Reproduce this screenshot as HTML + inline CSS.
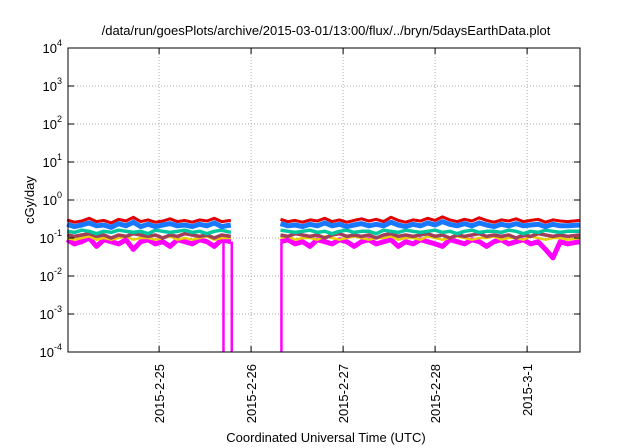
<!DOCTYPE html>
<html><head><meta charset="utf-8"><style>
html,body{margin:0;padding:0;background:#fff;}
svg{display:block;font-family:"Liberation Sans",sans-serif;}
</style></head><body>
<svg id="chart" width="640" height="448" viewBox="0 0 640 448" xmlns="http://www.w3.org/2000/svg">
<text x="326" y="35" font-size="13" text-anchor="middle">/data/run/goesPlots/archive/2015-03-01/13:00/flux/../bryn/5daysEarthData.plot</text>
<g id="grid"></g>
<g id="series"></g>
<rect x="68" y="48" width="512" height="304" fill="none" stroke="#000" stroke-width="1"/>
<g id="axes"></g>
<text transform="translate(34,200) rotate(-90)" font-size="13" text-anchor="middle">cGy/day</text>
<text x="326" y="442" font-size="13" text-anchor="middle">Coordinated Universal Time (UTC)</text>
</svg>
<script>
const xTickDays = [25, 26, 27, 28, 29];
const xTickLabels = ["2015-2-25", "2015-2-26", "2015-2-27", "2015-2-28", "2015-3-1"];
const yTickExps = [-4, -3, -2, -1, 0, 1, 2, 3, 4];
const times1 = [24.00,24.08,24.16,24.24,24.32,24.40,24.48,24.56,24.64,24.72,24.80,24.88,24.96,25.04,25.12,25.20,25.28,25.36,25.44,25.52,25.60,25.68,25.78];
const times2 = [26.32,26.40,26.48,26.56,26.64,26.72,26.80,26.88,26.96,27.04,27.12,27.20,27.28,27.36,27.44,27.52,27.60,27.68,27.76,27.84,27.92,28.00,28.08,28.16,28.24,28.32,28.40,28.48,28.56,28.64,28.72,28.80,28.88,28.96,29.04,29.12,29.20,29.28,29.36,29.44,29.57];
const red1 = [.30,.26,.28,.33,.27,.29,.25,.31,.28,.35,.27,.30,.26,.28,.32,.27,.29,.26,.30,.28,.33,.27,.29];
const red2 = [.31,.27,.29,.26,.30,.28,.33,.27,.30,.26,.29,.32,.28,.31,.27,.35,.29,.26,.30,.28,.33,.29,.36,.30,.27,.31,.28,.34,.29,.26,.30,.28,.32,.27,.29,.31,.26,.30,.28,.27,.29];
const blue1 = [.23,.20,.22,.25,.21,.22,.19,.24,.21,.26,.20,.23,.20,.22,.24,.21,.22,.20,.23,.21,.25,.20,.22];
const blue2 = [.24,.21,.22,.20,.23,.21,.25,.21,.23,.20,.22,.24,.21,.23,.21,.26,.22,.20,.23,.21,.25,.22,.27,.23,.21,.24,.21,.25,.22,.20,.23,.21,.24,.21,.22,.23,.20,.23,.21,.21,.22];
const cyan1 = [.15,.14,.16,.15,.13,.15,.14,.16,.15,.14,.15,.13,.16,.15,.14,.15,.16,.14,.15,.13,.15,.16,.14];
const cyan2 = [.16,.15,.14,.15,.16,.14,.15,.13,.15,.16,.14,.15,.15,.13,.16,.15,.14,.16,.15,.14,.15,.16,.14,.15,.13,.15,.16,.14,.15,.15,.14,.16,.15,.13,.15,.14,.16,.15,.14,.15,.15];
const brown1 = [.12,.11,.12,.13,.11,.12,.10,.12,.11,.13,.12,.11,.12,.10,.12,.11,.13,.12,.11,.12,.10,.12,.11];
const brown2 = [.12,.11,.13,.12,.11,.12,.10,.12,.13,.11,.12,.11,.12,.10,.12,.13,.11,.12,.11,.12,.13,.11,.12,.10,.12,.11,.12,.13,.11,.12,.11,.12,.10,.12,.11,.13,.12,.11,.12,.11,.12];
const yellow1 = [.10,.09,.10,.11,.09,.10,.09,.10,.11,.09,.10,.10,.09,.10,.11,.09,.10,.09,.10,.11,.09,.10,.10];
const yellow2 = [.10,.11,.09,.10,.10,.09,.11,.10,.09,.10,.11,.10,.09,.10,.10,.11,.09,.10,.10,.09,.11,.10,.09,.10,.11,.10,.09,.10,.10,.11,.09,.10,.10,.09,.11,.10,.09,.10,.10,.09,.10];
const magenta1 = [.09,.07,.08,.10,.06,.09,.08,.07,.09,.05,.08,.09,.07,.08,.06,.09,.08,.07,.09,.08,.06,.09,.08];
const magenta2 = [.08,.09,.07,.08,.06,.09,.08,.07,.09,.08,.06,.08,.09,.07,.08,.09,.06,.08,.07,.09,.08,.07,.06,.09,.08,.07,.09,.08,.06,.08,.09,.07,.08,.09,.07,.08,.05,.03,.08,.07,.08];
const magentaDrops = [25.70, 25.79, 26.33];

const NS = "http://www.w3.org/2000/svg";
const L = 68, R = 580, T = 48, B = 352;
const xMin = 24.01, xMax = 29.575;
function xs(d){ return L + (d - xMin) / (xMax - xMin) * (R - L); }
function ys(v){ return B - (Math.log10(v) + 4) / 8 * (B - T); }
function mk(tag, attrs, parent){ const e = document.createElementNS(NS, tag); for (const k in attrs) e.setAttribute(k, attrs[k]); parent.appendChild(e); return e; }

const grid = document.getElementById('grid');
const axes = document.getElementById('axes');
const sg = document.getElementById('series');

yTickExps.forEach(function(p){
  const y = ys(Math.pow(10, p));
  if (p > -4 && p < 4) {
    const g = mk('line', {x1:L, x2:R, y1:y, y2:y, stroke:'#aaa', 'stroke-width':1, 'stroke-dasharray':'1,2'}, grid);
    
    
  }
  const t1 = mk('line', {x1:L, x2:L+6, y1:y, y2:y, stroke:'#000'}, axes);
  
  
  const t2 = mk('line', {x1:R-6, x2:R, y1:y, y2:y, stroke:'#000'}, axes);
  
  
  const lab = mk('text', {x:62, y:y+5, 'font-size':13, 'text-anchor':'end'}, axes);
  
  
  lab.textContent = '10';
  const sup = mk('tspan', {dy:-7, 'font-size':9}, lab);
  sup.textContent = String(p);
});

xTickDays.forEach(function(d, i){
  const x = xs(d);
  const g = mk('line', {x1:x, x2:x, y1:T, y2:B, stroke:'#aaa', 'stroke-width':1, 'stroke-dasharray':'1,2'}, grid);
  
  
  const t1 = mk('line', {x1:x, x2:x, y1:B-6, y2:B, stroke:'#000'}, axes);
  
  
  const t2 = mk('line', {x1:x, x2:x, y1:T, y2:T+6, stroke:'#000'}, axes);
  
  
  const lab = mk('text', {transform:'translate(' + (x+5) + ',364) rotate(-90)', 'font-size':13, 'text-anchor':'end'}, axes);
  
  
  lab.textContent = xTickLabels[i];
});

function drawSeries(name, color, width, segs){
  segs.forEach(function(s){
    const pts = s[0].map(function(t, i){ return xs(t).toFixed(1) + ',' + ys(s[1][i]).toFixed(1); }).join(' ');
    const pl = mk('polyline', {points:pts, fill:'none', stroke:color, 'stroke-width':width, 'stroke-linejoin':'round'}, sg);
    
    
  });
}
drawSeries('series-magenta', '#ff00ff', 5, [[times1, magenta1], [times2, magenta2]]);
magentaDrops.forEach(function(d){
  const x = xs(d);
  const ln = mk('line', {x1:x, x2:x, y1:ys(0.08), y2:B, stroke:'#ff00ff', 'stroke-width':2.5}, sg);
  
  
});
drawSeries('series-yellow', '#e8d000', 2.5, [[times1, yellow1], [times2, yellow2]]);
drawSeries('series-brown', '#a0405a', 3.5, [[times1, brown1], [times2, brown2]]);
drawSeries('series-cyan', '#00c8a0', 3.5, [[times1, cyan1], [times2, cyan2]]);
drawSeries('series-red', '#e00000', 3, [[times1, red1], [times2, red2]]);
drawSeries('series-blue', '#1878ff', 5, [[times1, blue1], [times2, blue2]]);
</script>
</body></html>
